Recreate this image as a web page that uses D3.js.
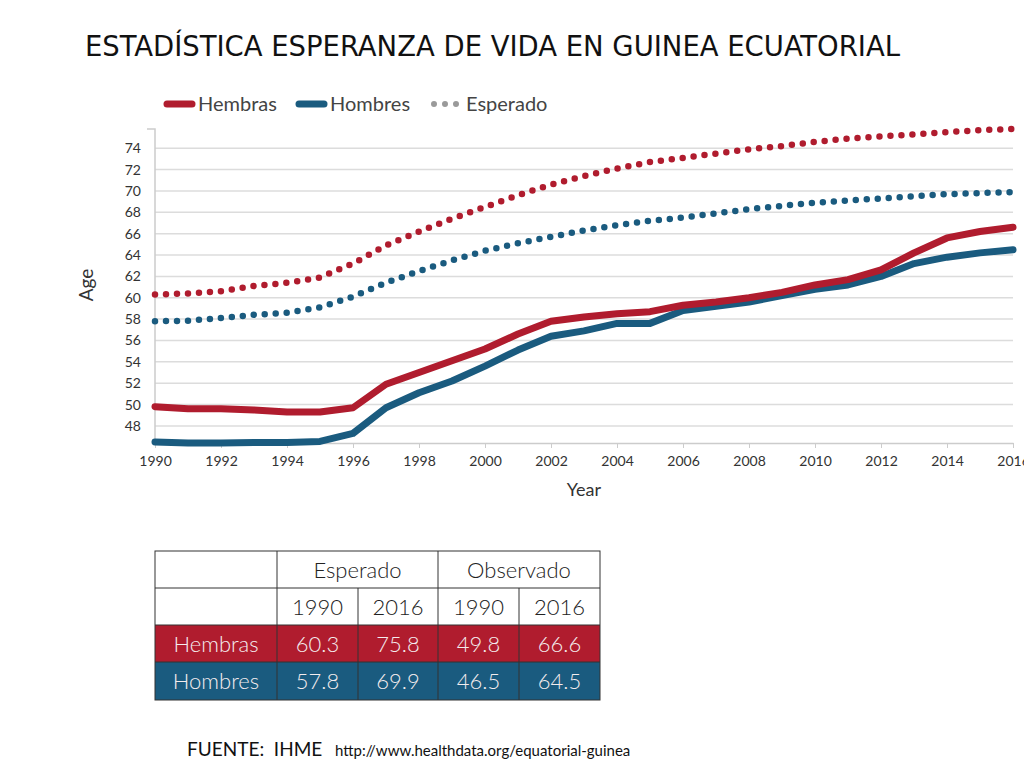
<!DOCTYPE html>
<html lang="es">
<head>
<meta charset="UTF-8">
<title>Estadística esperanza de vida en Guinea Ecuatorial</title>
<script src="https://d3js.org/d3.v7.min.js"></script>
<style>
    body { margin: 0; background: #fff; }
    svg { display: block; }
</style>
</head>
<body>
<svg id="vis" width="1024" height="761"></svg>
<script>
    // data
    const years = d3.range(1990, 2017);
    const femObserved = [49.8, 49.6, 49.6, 49.5, 49.3, 49.3, 49.7, 51.9, 53.0, 54.1, 55.2, 56.6, 57.8, 58.2, 58.5, 58.7, 59.3, 59.6, 60.0, 60.5, 61.2, 61.7, 62.6, 64.2, 65.6, 66.2, 66.6];
    const maleObserved = [46.5, 46.4, 46.4, 46.45, 46.45, 46.55, 47.3, 49.7, 51.1, 52.2, 53.6, 55.1, 56.4, 56.9, 57.6, 57.6, 58.8, 59.2, 59.6, 60.2, 60.8, 61.2, 62.0, 63.2, 63.8, 64.2, 64.5];
    const femExpected = [60.3, 60.4, 60.6, 61.1, 61.4, 61.9, 63.2, 64.9, 66.2, 67.4, 68.5, 69.6, 70.6, 71.4, 72.1, 72.7, 73.1, 73.5, 73.9, 74.2, 74.6, 74.9, 75.1, 75.3, 75.5, 75.7, 75.8];
    const maleExpected = [57.8, 57.85, 58.1, 58.4, 58.6, 59.1, 60.1, 61.4, 62.5, 63.5, 64.4, 65.1, 65.7, 66.3, 66.8, 67.2, 67.5, 67.9, 68.3, 68.6, 68.9, 69.1, 69.3, 69.5, 69.7, 69.8, 69.9];
    const yTicks = [48, 50, 52, 54, 56, 58, 60, 62, 64, 66, 68, 70, 72, 74];
    const xTicks = d3.range(1990, 2017, 2);

    const red = "#b01c2e";
    const blue = "#1a5b7f";
    const font = "Lato, sans-serif";

    const svg = d3.select("#vis");

    // title
    svg.append("text")
        .attr("x", 85).attr("y", 56)
        .attr("font-family", "'Liberation Sans Narrow', 'DejaVu Sans Condensed', 'DejaVu Sans'")
        .attr("font-size", 29)
        .attr("textLength", 815)
        .attr("lengthAdjust", "spacingAndGlyphs")
        .attr("fill", "#111")
        .text("ESTADÍSTICA ESPERANZA DE VIDA EN GUINEA ECUATORIAL");

    const x = d3.scaleLinear().domain([1990, 2016]).range([155, 1013]);
    const y = d3.scaleLinear().domain([46.4, 75.8]).range([443, 129]);

    const plot = svg.append("g");

    // gridlines
    plot.selectAll("line.grid")
        .data(yTicks)
        .join("line")
        .attr("class", "grid")
        .attr("x1", x(1990)).attr("x2", x(2016))
        .attr("y1", d => y(d)).attr("y2", d => y(d))
        .attr("stroke", "#dcdcdc")
        .attr("stroke-width", 1.5);

    // axes
    const xAxis = plot.append("g")
        .attr("transform", `translate(0,${y(46.4)})`)
        .call(d3.axisBottom(x).tickValues(xTicks).tickFormat(d3.format("d")).tickSize(5).tickSizeOuter(0));
    xAxis.select(".domain").attr("stroke", "#ccc").attr("stroke-width", 1.5);
    xAxis.selectAll(".tick line").attr("stroke", "#ccc");
    xAxis.selectAll("text")
        .attr("font-family", font).attr("font-size", 14).attr("fill", "#333").attr("dy", "1.05em");

    const yAxis = plot.append("g")
        .attr("transform", `translate(${x(1990)},0)`)
        .call(d3.axisLeft(y).tickValues(yTicks).tickSize(0).tickPadding(14));
    yAxis.select(".domain").attr("stroke", "#ccc").attr("stroke-width", 1.5)
        .attr("d", `M-8,${y(75.8)}H0V${y(46.4)}`);
    yAxis.selectAll("text")
        .attr("font-family", font).attr("font-size", 14).attr("fill", "#333");

    // axis titles
    svg.append("text")
        .attr("transform", "translate(93,285) rotate(-90)")
        .attr("text-anchor", "middle")
        .attr("font-family", font).attr("font-size", 19).attr("fill", "#333")
        .text("Age");
    svg.append("text")
        .attr("x", 584).attr("y", 496)
        .attr("text-anchor", "middle")
        .attr("font-family", font).attr("font-size", 18).attr("fill", "#333")
        .text("Year");

    // series
    const line = d3.line().x((d, i) => x(years[i])).y(d => y(d));
    const series = [
        { values: femExpected, color: red, dotted: true },
        { values: maleExpected, color: blue, dotted: true },
        { values: maleObserved, color: blue, dotted: false },
        { values: femObserved, color: red, dotted: false }
    ];
    plot.selectAll("path.series")
        .data(series)
        .join("path")
        .attr("class", "series")
        .attr("d", d => line(d.values))
        .attr("fill", "none")
        .attr("stroke", d => d.color)
        .attr("stroke-width", d => d.dotted ? 6.5 : 7)
        .attr("stroke-linecap", "round")
        .attr("stroke-linejoin", "round")
        .attr("stroke-dasharray", d => d.dotted ? "0 11" : null);

    // legend
    const legendItems = [
        { label: "Hembras", color: red, dotted: false, x: 167 },
        { label: "Hombres", color: blue, dotted: false, x: 299 },
        { label: "Esperado", color: "#9a9a9a", dotted: true, x: 434 }
    ];
    const legend = svg.append("g").attr("transform", "translate(0,104)");
    legendItems.forEach(it => {
        legend.append("line")
            .attr("x1", it.x).attr("x2", it.x + (it.dotted ? 22.5 : 25))
            .attr("y1", 0).attr("y2", 0)
            .attr("stroke", it.color)
            .attr("stroke-width", it.dotted ? 6 : 7)
            .attr("stroke-linecap", "round")
            .attr("stroke-dasharray", it.dotted ? "0 11" : null);
        legend.append("text")
            .attr("x", it.dotted ? it.x + 32 : it.x + 31).attr("y", 7)
            .attr("font-family", font).attr("font-size", 20).attr("fill", "#444")
            .text(it.label);
    });

    // summary table
    const last = years.length - 1;
    const tableRows = [
        { label: "Hembras", color: red, vals: [femExpected[0], femExpected[last], femObserved[0], femObserved[last]] },
        { label: "Hombres", color: blue, vals: [maleExpected[0], maleExpected[last], maleObserved[0], maleObserved[last]] }
    ];
    const colX = [155, 277, 358, 438, 519, 600];
    const rowY = [551, 588, 625, 662, 700];
    const tbl = svg.append("g").attr("font-family", font).attr("font-weight", 300).attr("font-size", 22);

    tableRows.forEach((r, i) => {
        const cy = (rowY[i + 2] + rowY[i + 3]) / 2 + 8;
        tbl.append("rect")
            .attr("x", colX[0]).attr("y", rowY[i + 2])
            .attr("width", colX[5] - colX[0]).attr("height", rowY[i + 3] - rowY[i + 2])
            .attr("fill", r.color);
        tbl.append("text")
            .attr("x", (colX[0] + colX[1]) / 2).attr("y", cy)
            .attr("text-anchor", "middle").attr("fill", "#f4ecee")
            .text(r.label);
        r.vals.forEach((v, j) => {
            tbl.append("text")
                .attr("x", (colX[j + 1] + colX[j + 2]) / 2).attr("y", cy)
                .attr("text-anchor", "middle").attr("fill", "#f4ecee")
                .text(d3.format(".1f")(v));
        });
    });

    // header text
    [["Esperado", 1, 3], ["Observado", 3, 5]].forEach(([t, a, b]) => {
        tbl.append("text")
            .attr("x", (colX[a] + colX[b]) / 2).attr("y", (rowY[0] + rowY[1]) / 2 + 8)
            .attr("text-anchor", "middle").attr("fill", "#222").text(t);
    });
    [1990, 2016, 1990, 2016].forEach((t, j) => {
        tbl.append("text")
            .attr("x", (colX[j + 1] + colX[j + 2]) / 2).attr("y", (rowY[1] + rowY[2]) / 2 + 8)
            .attr("text-anchor", "middle").attr("fill", "#222").text(t);
    });

    // table borders
    const borders = tbl.append("g").attr("stroke", "#333").attr("stroke-width", 1).attr("fill", "none");
    borders.append("rect")
        .attr("x", colX[0]).attr("y", rowY[0])
        .attr("width", colX[5] - colX[0]).attr("height", rowY[4] - rowY[0]);
    rowY.slice(1, 4).forEach(yy => {
        borders.append("line").attr("x1", colX[0]).attr("x2", colX[5]).attr("y1", yy).attr("y2", yy);
    });
    borders.append("line").attr("x1", colX[1]).attr("x2", colX[1]).attr("y1", rowY[0]).attr("y2", rowY[4]);
    borders.append("line").attr("x1", colX[3]).attr("x2", colX[3]).attr("y1", rowY[0]).attr("y2", rowY[4]);
    [2, 4].forEach(c => {
        borders.append("line").attr("x1", colX[c]).attr("x2", colX[c]).attr("y1", rowY[1]).attr("y2", rowY[4]);
    });

    // source
    svg.append("text").attr("x", 187).attr("y", 756).attr("fill", "#111")
        .attr("font-family", font).attr("font-size", 19)
        .text("FUENTE:\u00a0\u00a0IHME");
    svg.append("text").attr("x", 335).attr("y", 756).attr("fill", "#111")
        .attr("font-family", font).attr("font-size", 15)
        .text("http://www.healthdata.org/equatorial-guinea");
</script>
</body>
</html>
